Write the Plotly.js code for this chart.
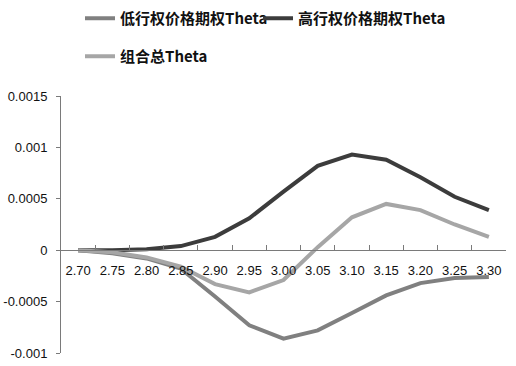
<!DOCTYPE html>
<html>
<head>
<meta charset="utf-8">
<script src="https://cdn.plot.ly/plotly-3.0.1.min.js"></script>
<style>html,body{margin:0;padding:0;background:#fff;}#chart{width:516px;height:366px;}</style>
</head>
<body>
<div id="chart"></div>
<script>
var strikes = ["2.70","2.75","2.80","2.85","2.90","2.95","3.00","3.05","3.10","3.15","3.20","3.25","3.30"];
var lowTheta = [0, -0.00003, -0.00008, -0.00018, -0.00045, -0.00073, -0.00086, -0.00078, -0.00061, -0.00044, -0.00032, -0.00027, -0.00026];
var highTheta = [0, 0, 0.00001, 0.00004, 0.00013, 0.00031, 0.00057, 0.00082, 0.00093, 0.00088, 0.00071, 0.00052, 0.00039];
var totalTheta = [0, -0.00002, -0.00007, -0.00016, -0.00033, -0.00041, -0.00029, 0.00003, 0.00032, 0.00045, 0.00039, 0.00025, 0.00013];
var yTickVals = [-0.001, -0.0005, 0, 0.0005, 0.001, 0.0015];
var yTickText = ["-0.001", "-0.0005", "0", "0.0005", "0.001", "0.0015"];
var seriesNames = ["低行权价格期权Theta", "高行权价格期权Theta", "组合总Theta"];

var traces = [
  {x: strikes, y: lowTheta, name: seriesNames[0], type: 'scatter', mode: 'lines',
   line: {color: '#808080', width: 4}, legend: 'legend'},
  {x: strikes, y: highTheta, name: seriesNames[1], type: 'scatter', mode: 'lines',
   line: {color: '#3c3c3c', width: 4}, legend: 'legend2'},
  {x: strikes, y: totalTheta, name: seriesNames[2], type: 'scatter', mode: 'lines',
   line: {color: '#a6a6a6', width: 4}, legend: 'legend3'}
];

var legendFont = {family: '"Noto Sans CJK SC", "Noto Sans", sans-serif', size: 15, color: '#111', weight: 'bold'};
function mkLegend(px, py) {
  return {
    orientation: 'h', xref: 'container', yref: 'container',
    x: px/516, y: 1 - py/366, xanchor: 'left', yanchor: 'top',
    font: legendFont, bgcolor: 'rgba(0,0,0,0)'
  };
}

var layout = {
  width: 516, height: 366,
  margin: {l: 61, r: 10, t: 96, b: 13},
  paper_bgcolor: '#fff', plot_bgcolor: '#fff',
  font: {family: '"Liberation Sans", Arial, sans-serif', size: 13, color: '#111'},
  showlegend: true,
  legend: mkLegend(80, 2),
  legend2: mkLegend(258, 2),
  legend3: mkLegend(80, 40),
  xaxis: {
    type: 'category',
    anchor: 'free', position: 0.4,
    showline: true, linecolor: '#7a7a7a', linewidth: 1,
    ticks: 'inside', ticklen: 5, tickcolor: '#7a7a7a', tickson: 'boundaries',
    showgrid: false, zeroline: false, tickangle: 0,
    tickfont: {family: '"Liberation Sans", Arial, sans-serif', size: 13, color: '#111'},
    ticklabelstandoff: 8,
    range: [-0.5, 12.5]
  },
  yaxis: {
    range: [-0.001, 0.0015],
    tickvals: yTickVals, ticktext: yTickText,
    showline: true, linecolor: '#7a7a7a', linewidth: 1,
    ticks: 'outside', ticklen: 4, tickcolor: '#7a7a7a',
    showgrid: false, zeroline: false,
    tickfont: {family: '"Liberation Sans", Arial, sans-serif', size: 13, color: '#111'},
    ticklabelstandoff: 6
  }
};

Plotly.newPlot('chart', traces, layout, {displayModeBar: false, staticPlot: true});
</script>
</body>
</html>
